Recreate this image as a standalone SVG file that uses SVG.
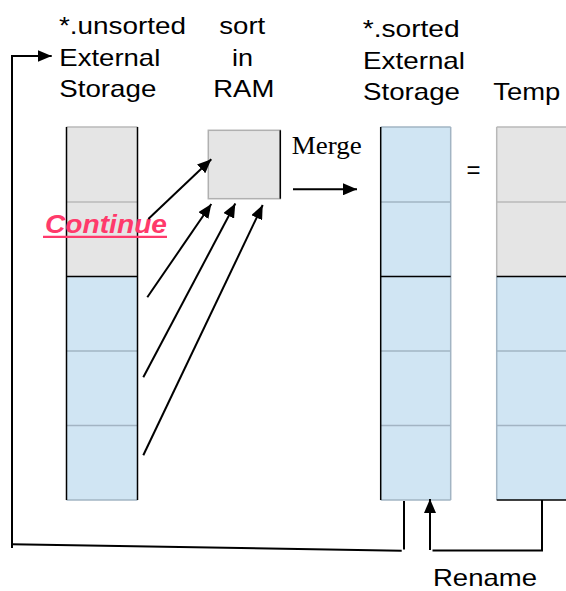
<svg xmlns="http://www.w3.org/2000/svg" width="566" height="591" viewBox="0 0 566 591">
  <style>
    .lbl { font-family: "Liberation Sans", Arial, sans-serif; font-size: 24px; fill: #000; }
    .serif { font-family: "Liberation Serif", "Times New Roman", serif; font-size: 25px; fill: #000; }
    .cont { font-family: "Liberation Sans", Arial, sans-serif; font-size: 25px; font-weight: bold; font-style: italic; fill: #ff3a6b; }
    .gray { fill: #e5e5e5; }
    .blue { fill: #d0e5f3; }
    .gl { stroke: #b8b8b8; stroke-width: 1.5; fill: none; }
    .bl { stroke: #a2b4c3; stroke-width: 1.5; fill: none; }
    .k { stroke: #000; stroke-width: 1.5; fill: none; }
    .conn { stroke: #000; stroke-width: 2; fill: none; }
  </style>
  <defs>
    <marker id="ah" markerUnits="userSpaceOnUse" markerWidth="16" markerHeight="12" refX="14" refY="6" orient="auto">
      <path d="M0,0 L14,6 L0,12 z" fill="#000"/>
    </marker>
  </defs>
  <rect width="566" height="591" fill="#fff"/>

  <!-- Labels -->
  <g id="label-unsorted">
    <text class="lbl" x="59" y="34" textLength="127" lengthAdjust="spacingAndGlyphs">*.unsorted</text>
    <text class="lbl" x="59.3" y="65.5" textLength="101" lengthAdjust="spacingAndGlyphs">External</text>
    <text class="lbl" x="59.3" y="97" textLength="97" lengthAdjust="spacingAndGlyphs">Storage</text>
  </g>
  <g id="label-sort">
    <text class="lbl" x="219.3" y="34" textLength="46" lengthAdjust="spacingAndGlyphs">sort</text>
    <text class="lbl" x="232" y="65.5" textLength="21" lengthAdjust="spacingAndGlyphs">in</text>
    <text class="lbl" x="213.3" y="97" textLength="61" lengthAdjust="spacingAndGlyphs">RAM</text>
  </g>
  <g id="label-sorted">
    <text class="lbl" x="362.7" y="37" textLength="97" lengthAdjust="spacingAndGlyphs">*.sorted</text>
    <text class="lbl" x="363" y="68.5" textLength="102" lengthAdjust="spacingAndGlyphs">External</text>
    <text class="lbl" x="363" y="99.5" textLength="97" lengthAdjust="spacingAndGlyphs">Storage</text>
  </g>
  <g id="label-temp">
    <text class="lbl" x="493.3" y="99.5" textLength="67" lengthAdjust="spacingAndGlyphs">Temp</text>
  </g>

  <!-- Unsorted column -->
  <g id="unsorted-storage">
    <rect class="gray" x="66.5" y="127" width="71" height="149.5"/>
    <rect class="blue" x="66.5" y="276.5" width="71" height="223.5"/>
    <line class="gl" x1="66.5" y1="127" x2="137.5" y2="127"/>
    <line class="gl" x1="66.5" y1="202" x2="137.5" y2="202"/>
    <line class="bl" x1="66.5" y1="351" x2="137.5" y2="351"/>
    <line class="bl" x1="66.5" y1="425.5" x2="137.5" y2="425.5"/>
    <line class="bl" x1="66.5" y1="500" x2="137.5" y2="500"/>
    <line class="k" x1="66.5" y1="276.5" x2="137.5" y2="276.5"/>
    <line class="k" x1="66.5" y1="127" x2="66.5" y2="500"/>
    <line class="k" x1="137.5" y1="127" x2="137.5" y2="500"/>
  </g>

  <!-- Sort in RAM box -->
  <g id="sort-ram">
    <rect class="gray" x="208.3" y="130.3" width="72" height="68.4" stroke="#b0b0b0" stroke-width="1.5"/>
    <line class="k" x1="280.3" y1="130.3" x2="280.3" y2="198.7"/>
  </g>

  <!-- Merge label -->
  <g id="merge">
    <text class="serif" x="291.7" y="154" textLength="70" lengthAdjust="spacingAndGlyphs">Merge</text>
  </g>

  <!-- Sorted column -->
  <g id="sorted-storage">
    <rect class="blue" x="380.7" y="127" width="70" height="373"/>
    <line class="bl" x1="380.7" y1="127" x2="450.7" y2="127"/>
    <line class="bl" x1="380.7" y1="202" x2="450.7" y2="202"/>
    <line class="bl" x1="380.7" y1="351" x2="450.7" y2="351"/>
    <line class="bl" x1="380.7" y1="425.5" x2="450.7" y2="425.5"/>
    <line class="bl" x1="380.7" y1="500" x2="450.7" y2="500"/>
    <line class="bl" x1="450.7" y1="127" x2="450.7" y2="500"/>
    <line class="k" x1="380.7" y1="276.5" x2="450.7" y2="276.5"/>
    <line class="k" x1="380.7" y1="127" x2="380.7" y2="500"/>
  </g>

  <g id="equals">
    <text class="lbl" x="466.5" y="178">=</text>
  </g>

  <!-- Temp column -->
  <g id="temp">
    <rect class="gray" x="496.7" y="127" width="75" height="149.5"/>
    <rect class="blue" x="496.7" y="276.5" width="75" height="223.5"/>
    <line class="gl" x1="496.7" y1="127" x2="570" y2="127"/>
    <line class="gl" x1="496.7" y1="202" x2="570" y2="202"/>
    <line class="bl" x1="496.7" y1="351" x2="570" y2="351"/>
    <line class="bl" x1="496.7" y1="425.5" x2="570" y2="425.5"/>
    <line class="gl" x1="496.7" y1="127" x2="496.7" y2="276.5"/>
    <line class="bl" x1="496.7" y1="276.5" x2="496.7" y2="500"/>
    <line class="k" x1="496.7" y1="276.5" x2="570" y2="276.5"/>
    <line class="k" x1="496.7" y1="500" x2="570" y2="500"/>
  </g>

  <!-- Continue -->
  <g id="continue">
    <text class="cont" x="45" y="233" textLength="122" lengthAdjust="spacingAndGlyphs">Continue</text>
    <line x1="43" y1="236.8" x2="167" y2="236.8" stroke="#ff3a6b" stroke-width="2.2"/>
  </g>

  <g id="rename">
    <text class="lbl" x="433" y="586" textLength="104" lengthAdjust="spacingAndGlyphs">Rename</text>
  </g>

  <!-- Connectors -->
  <g id="connectors">
    <line class="conn" x1="148.3" y1="219" x2="211.3" y2="159.3" marker-end="url(#ah)"/>
    <line class="conn" x1="147.3" y1="297.3" x2="211.3" y2="204" marker-end="url(#ah)"/>
    <line class="conn" x1="143.3" y1="377.3" x2="235.3" y2="203.5" marker-end="url(#ah)"/>
    <line class="conn" x1="143.3" y1="455.3" x2="262.7" y2="205" marker-end="url(#ah)"/>
    <line class="conn" x1="293" y1="189.3" x2="357" y2="189.3" marker-end="url(#ah)"/>
    <!-- loop back to unsorted -->
    <path class="conn" d="M404,501 V549.5 M401.7,550.7 L11.5,544.3"/>
    <line class="conn" x1="12" y1="548" x2="12" y2="55"/>
    <line class="conn" x1="11" y1="56" x2="51.7" y2="56" marker-end="url(#ah)"/>
    <!-- rename -->
    <path class="conn" d="M542,500 V550.5 H432.5"/>
    <line class="conn" x1="430" y1="550" x2="430" y2="499" marker-end="url(#ah)"/>
  </g>
</svg>
